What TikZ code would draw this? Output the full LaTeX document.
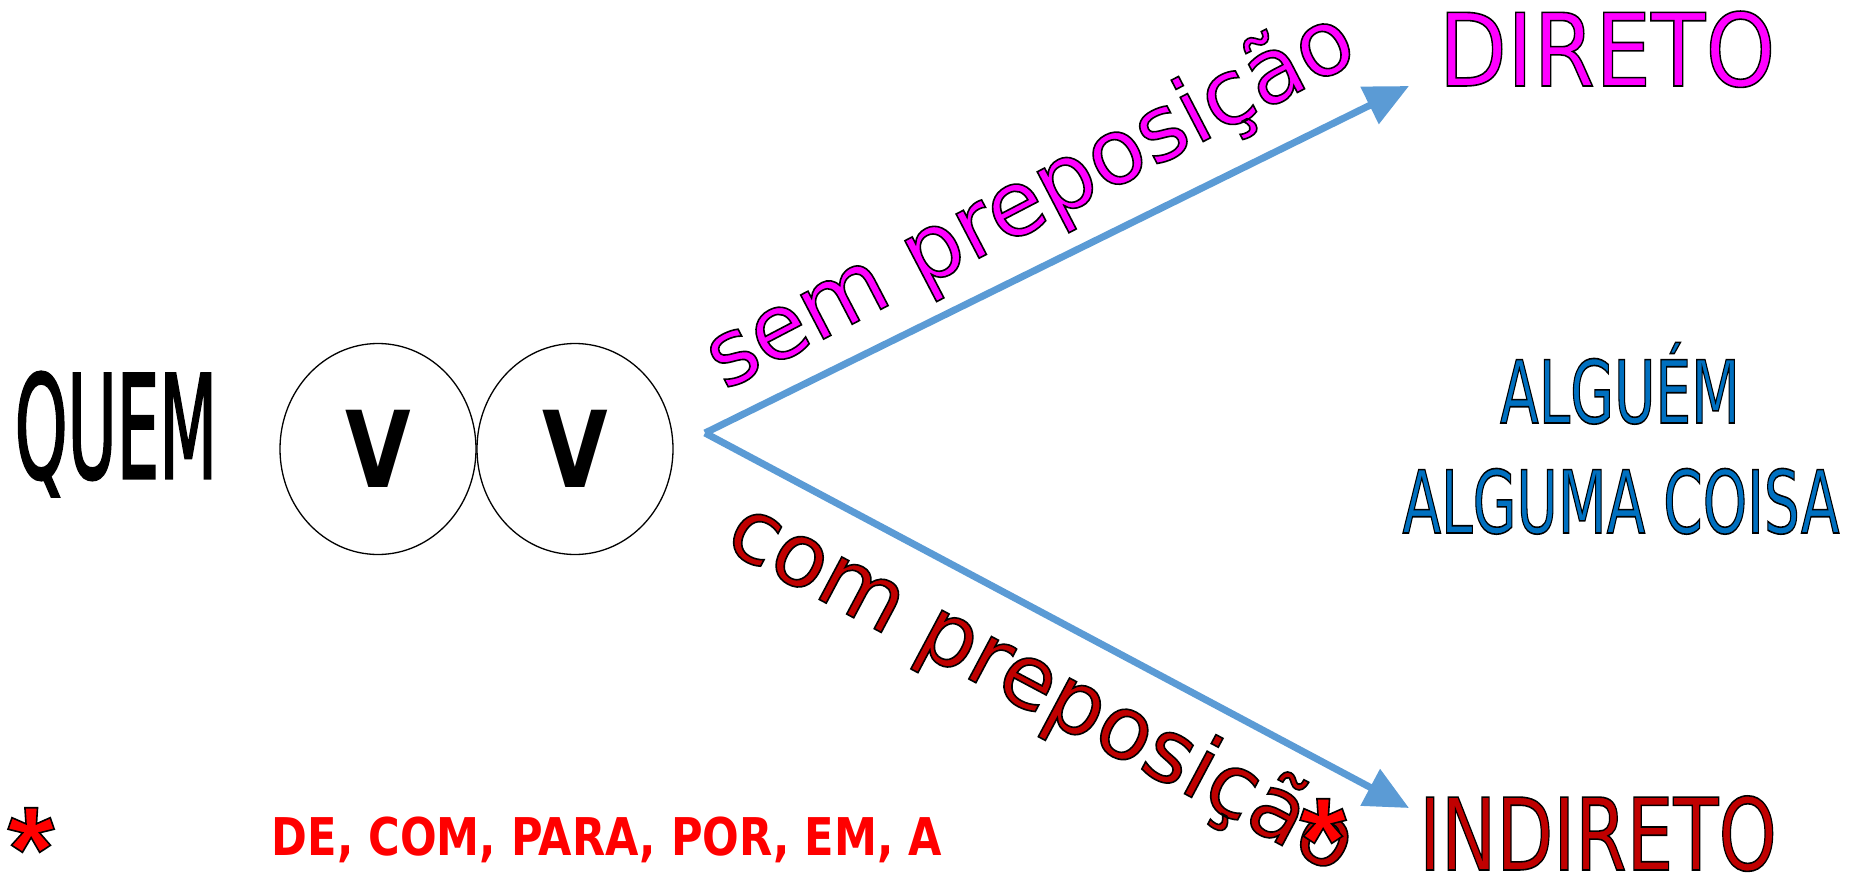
\documentclass[tikz,border=0pt]{standalone}
\usepackage{fontspec}
\setmainfont{DejaVu Sans}
\newfontfamily\estrela{Liberation Sans}
\usetikzlibrary{arrows.meta,shapes.geometric}

\definecolor{setaazul}{HTML}{5B9BD5}
\definecolor{rosa}{HTML}{FF00FF}
\definecolor{vinho}{HTML}{C00000}
\definecolor{azul}{HTML}{0070C0}
\definecolor{vermelho}{HTML}{FF0000}

% texto com contorno preto
\newcommand{\contorno}[2][1.6]{\special{pdf:literal direct 2 Tr #1 w 0 0 0 RG}#2\special{pdf:literal direct 0 Tr}}
\newcommand{\tam}[1]{\fontsize{#1}{#1}\selectfont}

\tikzset{
    seta/.style={draw=setaazul, line width=7pt, -{Triangle[length=44pt,width=40pt]}},
    circulo/.style={draw, ellipse, line width=1.3pt, minimum width=196pt, minimum height=211pt, inner sep=0pt},
}

\begin{document}
\begin{tikzpicture}[x=1pt,y=-1pt]
            \useasboundingbox (0,0) rectangle (1856,875);

            \coordinate (ORIGEM) at (705, 433);
            \coordinate (PD) at (1409, 86);
            \coordinate (PI) at (1409, 808);

            \node[anchor=base] (QUEM) at (116, 478) {\tam{143}\scalebox{0.47}[1]{\contorno[3]{QUEM}}};
            \node[circulo] (V1) at (378, 449) {\tam{106}\bfseries\raisebox{-6pt}{\scalebox{0.8}[1]{V}}};
            \node[circulo] (V2) at (575, 449) {\tam{106}\bfseries\raisebox{-6pt}{\scalebox{0.8}[1]{V}}};

            \draw[seta] (ORIGEM) -- (PD);
            \draw[seta] (ORIGEM) -- (PI);

            \node[rotate=27.5, text=rosa] (SEM) at (1031, 202) {\tam{91}\contorno{sem preposição}};
            \node[rotate=-28, text=vinho] (COM) at (1041, 689) {\tam{88}\contorno{com preposição}};
            \node[text=vermelho] (AST1) at (1323, 840) {\tam{120}\estrela\bfseries\contorno{*}};

            \node[anchor=base, text=rosa] (DIRETO) at (1607, 86) {\tam{101}\scalebox{0.88}[1]{\contorno{DIRETO}}};
            \node[anchor=base, text=vinho] (INDIRETO) at (1598, 870) {\tam{100}\scalebox{0.74}[1]{\contorno{INDIRETO}}};
            \node[anchor=base, text=azul] (ALGUEM) at (1620, 423) {\tam{87}\scalebox{0.65}[1]{\contorno{ALGUÉM}}};
            \node[anchor=base, text=azul] (COISA) at (1621, 533) {\tam{87}\scalebox{0.65}[1]{\contorno{ALGUMA COISA}}};

            \node[text=vermelho] (AST2) at (31, 849) {\tam{120}\estrela\bfseries\contorno{*}};
            \node[anchor=base, text=vermelho] (PREP) at (607, 855) {\tam{52}\bfseries\scalebox{0.83}[1]{DE, COM, PARA, POR, EM, A}};

        \end{tikzpicture}
\end{document}
